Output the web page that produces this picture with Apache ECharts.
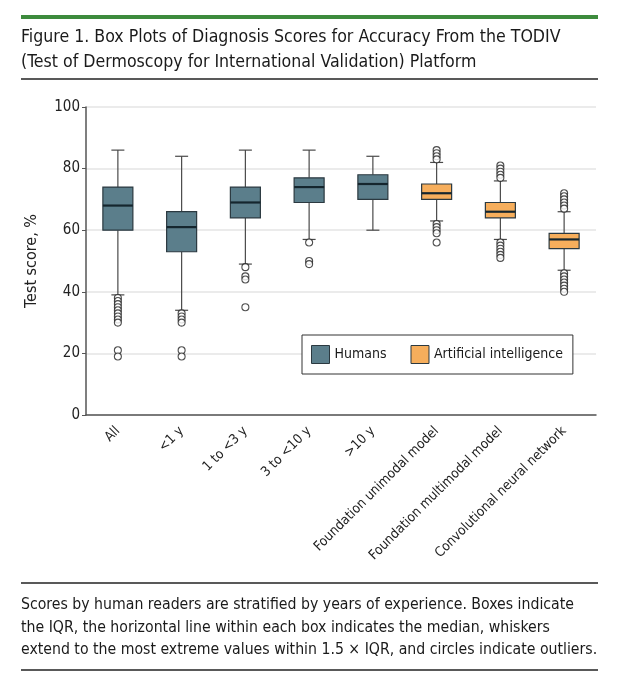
<!DOCTYPE html>
<html>
<head>
<meta charset="utf-8">
<script src="https://cdn.jsdelivr.net/npm/echarts@6/dist/echarts.min.js"></script>
<style>
  html, body { margin: 0; padding: 0; background: #fff; }
  #chart { width: 620px; height: 680px; }
</style>
</head>
<body>
<div id="chart"></div>
<script>
// Categories along the x axis
const categories = ['All', '<1 y', '1 to <3 y', '3 to <10 y', '>10 y',
  'Foundation unimodal model', 'Foundation multimodal model', 'Convolutional neural network'];

// Box stats: [category, min whisker, Q1, median, Q3, max whisker]
const humanBoxes = [
  ['All', 39, 60, 68, 74, 86],
  ['<1 y', 34, 53, 61, 66, 84],
  ['1 to <3 y', 49, 64, 69, 74, 86],
  ['3 to <10 y', 57, 69, 74, 77, 86],
  ['>10 y', 60, 70, 75, 78, 84]
];
const aiBoxes = [
  ['Foundation unimodal model', 63, 70, 72, 75, 82],
  ['Foundation multimodal model', 57, 64, 66, 69, 76],
  ['Convolutional neural network', 47, 54, 57, 59, 66]
];

// Outliers per category
const outliers = {
  'All': [38, 37, 36, 35, 34, 33, 32, 31, 30, 21, 19],
  '<1 y': [33, 32, 31, 30, 21, 19],
  '1 to <3 y': [48, 45, 44, 35],
  '3 to <10 y': [56, 50, 49],
  'Foundation unimodal model': [86, 85, 84, 83, 62, 61, 60, 59, 56],
  'Foundation multimodal model': [81, 80, 79, 78, 77, 56, 55, 54, 53, 52, 51],
  'Convolutional neural network': [72, 71, 70, 69, 68, 67, 46, 45, 44, 43, 42, 41, 40]
};

const yTicks = [0, 20, 40, 60, 80, 100];

const HUMAN_COLOR = '#5b7e8b';
const AI_COLOR = '#f6ae5c';
const EDGE = '#2b3940';
const FONT = '"Liberation Sans Narrow", "DejaVu Sans Condensed", sans-serif';

// Draw one box with narrow whisker caps
function renderBox(params, api) {
  const cat = api.value(0);
  const lo = api.coord([cat, api.value(1)]);
  const q1 = api.coord([cat, api.value(2)]);
  const med = api.coord([cat, api.value(3)]);
  const q3 = api.coord([cat, api.value(4)]);
  const hi = api.coord([cat, api.value(5)]);
  const cx = lo[0];
  const half = 15;
  const cap = 6.5;
  const fill = api.visual('color');
  const line = { stroke: '#4a4a4a', lineWidth: 1.2 };
  return {
    type: 'group',
    children: [
      { type: 'line', shape: { x1: cx, y1: hi[1], x2: cx, y2: q3[1] }, style: line },
      { type: 'line', shape: { x1: cx, y1: q1[1], x2: cx, y2: lo[1] }, style: line },
      { type: 'line', shape: { x1: cx - cap, y1: hi[1], x2: cx + cap, y2: hi[1] }, style: line },
      { type: 'line', shape: { x1: cx - cap, y1: lo[1], x2: cx + cap, y2: lo[1] }, style: line },
      { type: 'rect', shape: { x: cx - half, y: q3[1], width: half * 2, height: q1[1] - q3[1] },
        style: { fill: fill, stroke: EDGE, lineWidth: 1.2 } },
      { type: 'line', shape: { x1: cx - half, y1: med[1], x2: cx + half, y2: med[1] },
        style: { stroke: '#15262e', lineWidth: 2.2 } }
    ]
  };
}

const outlierPoints = [];
Object.keys(outliers).forEach(cat => {
  outliers[cat].forEach(v => outlierPoints.push([cat, v]));
});

const chart = echarts.init(document.getElementById('chart'));
chart.setOption({
  animation: false,
  backgroundColor: '#fff',
  textStyle: { fontFamily: FONT },
  title: [
    {
      text: 'Figure 1. Box Plots of Diagnosis Scores for Accuracy From the TODIV\n(Test of Dermoscopy for International Validation) Platform',
      left: 21, top: 25, padding: 0,
      textStyle: { fontFamily: FONT, fontSize: 17.6, fontWeight: 'normal', color: '#1a1a1a', lineHeight: 25 }
    },
    {
      text: 'Scores by human readers are stratified by years of experience. Boxes indicate\nthe IQR, the horizontal line within each box indicates the median, whiskers\nextend to the most extreme values within 1.5 \u00d7 IQR, and circles indicate outliers.',
      left: 21, top: 594, padding: 0,
      textStyle: { fontFamily: FONT, fontSize: 15.7, fontWeight: 'normal', color: '#1a1a1a', lineHeight: 22.5 }
    }
  ],
  graphic: [
    { type: 'line', shape: { x1: 21, y1: 17, x2: 598, y2: 17 }, style: { stroke: '#3d8b3d', lineWidth: 4 } },
    { type: 'line', shape: { x1: 21, y1: 79, x2: 598, y2: 79 }, style: { stroke: '#222', lineWidth: 1.5 } },
    { type: 'line', shape: { x1: 21, y1: 583, x2: 598, y2: 583 }, style: { stroke: '#222', lineWidth: 1.5 } },
    { type: 'line', shape: { x1: 21, y1: 670, x2: 598, y2: 670 }, style: { stroke: '#222', lineWidth: 1.5 } }
  ],
  legend: {
    left: 302, top: 335,
    orient: 'horizontal',
    padding: [10, 10, 10, 9],
    itemGap: 24,
    itemWidth: 18, itemHeight: 18,
    backgroundColor: '#fff',
    borderColor: '#333', borderWidth: 1,
    z: 10,
    textStyle: { fontFamily: FONT, fontSize: 14, color: '#1a1a1a' },
    data: [
      { name: 'Humans', icon: 'rect', itemStyle: { color: HUMAN_COLOR, borderColor: EDGE, borderWidth: 1 } },
      { name: 'Artificial intelligence', icon: 'rect', itemStyle: { color: AI_COLOR, borderColor: EDGE, borderWidth: 1 } }
    ]
  },
  grid: { left: 86, right: 24, top: 107, bottom: 265 },
  xAxis: {
    type: 'category',
    data: categories,
    axisLine: { lineStyle: { color: '#555', width: 1.5 } },
    axisTick: { alignWithLabel: true, length: 4, lineStyle: { color: '#555' } },
    axisLabel: { rotate: 45, fontSize: 13.5, color: '#222', margin: 14, interval: 0, fontFamily: FONT }
  },
  yAxis: {
    type: 'value',
    min: 0, max: 100, interval: 20,
    name: 'Test score, %',
    nameLocation: 'middle',
    nameGap: 46,
    nameTextStyle: { fontSize: 16, color: '#222', fontFamily: FONT },
    axisLine: { show: true, lineStyle: { color: '#555', width: 1.5 } },
    axisTick: { show: true, length: 4, lineStyle: { color: '#555' } },
    axisLabel: { fontSize: 15, color: '#222', margin: 6, fontFamily: FONT,
      formatter: v => yTicks.includes(v) ? String(v) : '' },
    splitLine: { lineStyle: { color: '#e4e4e4', width: 1.5 } }
  },
  series: [
    {
      name: 'Humans', type: 'custom', renderItem: renderBox,
      itemStyle: { color: HUMAN_COLOR },
      encode: { x: 0, y: [1, 2, 3, 4, 5] },
      data: humanBoxes, z: 3
    },
    {
      name: 'Artificial intelligence', type: 'custom', renderItem: renderBox,
      itemStyle: { color: AI_COLOR },
      encode: { x: 0, y: [1, 2, 3, 4, 5] },
      data: aiBoxes, z: 3
    },
    {
      name: 'Outliers', type: 'scatter',
      symbol: 'circle', symbolSize: 7,
      itemStyle: { color: '#fff', borderColor: '#222', borderWidth: 1.1 },
      data: outlierPoints, z: 4
    }
  ]
});
</script>
</body>
</html>
